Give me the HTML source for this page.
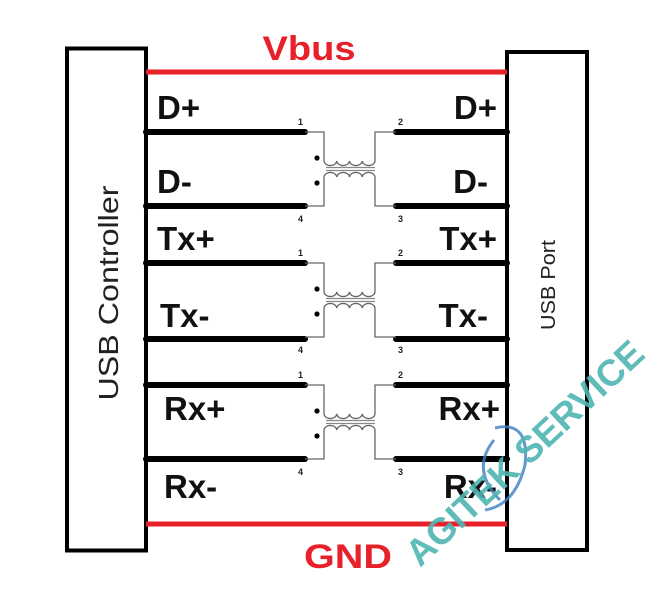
<!DOCTYPE html>
<html><head><style>html,body{margin:0;padding:0;background:#fff;}svg{display:block}</style></head>
<body>
<svg width="651" height="596" viewBox="0 0 651 596" xmlns="http://www.w3.org/2000/svg" font-family="Liberation Sans, sans-serif">
<rect width="651" height="596" fill="#fff"/>
<!-- boxes -->
<rect x="67" y="48.5" width="79" height="502" fill="#fff" stroke="#000" stroke-width="4"/>
<rect x="507" y="52" width="80" height="498" fill="#fff" stroke="#000" stroke-width="4"/>
<text transform="translate(118,293) rotate(-90)" text-anchor="middle" font-size="28" fill="#222" textLength="215" lengthAdjust="spacingAndGlyphs">USB Controller</text>
<text transform="translate(555,285) rotate(-90)" text-anchor="middle" font-size="20" fill="#222" textLength="90" lengthAdjust="spacingAndGlyphs">USB Port</text>
<!-- red rails -->
<line x1="146" y1="72" x2="507" y2="72" stroke="#e8202a" stroke-width="5"/>
<line x1="146" y1="524" x2="507" y2="524" stroke="#e8202a" stroke-width="5"/>
<text x="309" y="60" text-anchor="middle" font-size="34" font-weight="bold" fill="#e8202a" textLength="93" lengthAdjust="spacingAndGlyphs">Vbus</text>
<text x="348" y="568" text-anchor="middle" font-size="34" font-weight="bold" fill="#e8202a" textLength="88" lengthAdjust="spacingAndGlyphs">GND</text>
<!-- black lines -->
<g stroke="#000" stroke-width="6" stroke-linecap="round">
<line x1="146" y1="132" x2="305" y2="132"/><line x1="396" y1="132" x2="507" y2="132"/>
<line x1="146" y1="206" x2="305" y2="206"/><line x1="396" y1="206" x2="507" y2="206"/>
<line x1="146" y1="263" x2="305" y2="263"/><line x1="396" y1="263" x2="507" y2="263"/>
<line x1="146" y1="339" x2="305" y2="339"/><line x1="396" y1="339" x2="507" y2="339"/>
<line x1="146" y1="385" x2="305" y2="385"/><line x1="396" y1="385" x2="507" y2="385"/>
<line x1="146" y1="459" x2="305" y2="459"/><line x1="396" y1="459" x2="507" y2="459"/>
</g>
<!-- transformers -->
<defs>
<g id="tf">
<path d="M305 0 H324 V29 M396 0 H375 V29 M305 74 H324 V45 M396 74 H375 V45" fill="none" stroke="#666" stroke-width="1.3"/>
<path d="M324 29 a6.4 5 0 0 0 12.75 0 a6.4 5 0 0 0 12.75 0 a6.4 5 0 0 0 12.75 0 a6.4 5 0 0 0 12.75 0" fill="none" stroke="#666" stroke-width="1.3"/>
<path d="M324 45 a6.4 5 0 0 1 12.75 0 a6.4 5 0 0 1 12.75 0 a6.4 5 0 0 1 12.75 0 a6.4 5 0 0 1 12.75 0" fill="none" stroke="#666" stroke-width="1.3"/>
<line x1="326" y1="35.5" x2="375" y2="35.5" stroke="#888" stroke-width="1.2"/>
<line x1="326" y1="38.5" x2="375" y2="38.5" stroke="#888" stroke-width="1.2"/>
<circle cx="317" cy="26" r="2.6" fill="#000"/><circle cx="317" cy="51" r="2.6" fill="#000"/>
<g font-size="9" font-weight="bold" fill="#222"><text x="298" y="-7">1</text><text x="398" y="-7">2</text><text x="298" y="90">4</text><text x="398" y="90">3</text></g>
</g>
</defs>
<use href="#tf" y="132"/>
<use href="#tf" y="263"/>
<use href="#tf" y="385"/>
<!-- labels -->
<g font-size="33" font-weight="bold" fill="#111">
<text x="157" y="119">D+</text><text x="157" y="193">D-</text><text x="157" y="250">Tx+</text>
<text x="160" y="327">Tx-</text><text x="164" y="420">Rx+</text><text x="164" y="498">Rx-</text>
</g>
<g font-size="33" font-weight="bold" fill="#111" text-anchor="end">
<text x="497" y="119">D+</text><text x="488" y="193">D-</text><text x="497" y="250">Tx+</text>
<text x="488" y="327">Tx-</text><text x="500" y="420">Rx+</text><text x="497" y="498">Rx-</text>
</g>
<!-- watermark -->
<path d="M494 440 Q470 470 500 500 M495 428 Q530 420 525 465 Q515 505 485 510" fill="none" stroke="#3f7fc0" stroke-width="3" opacity="0.8"/>
<text transform="translate(420,568) rotate(-43)" font-size="37" font-weight="bold" fill="#4fb5b2" textLength="310" opacity="0.9">AGITEK SERVICE</text>
</svg>
</body></html>
